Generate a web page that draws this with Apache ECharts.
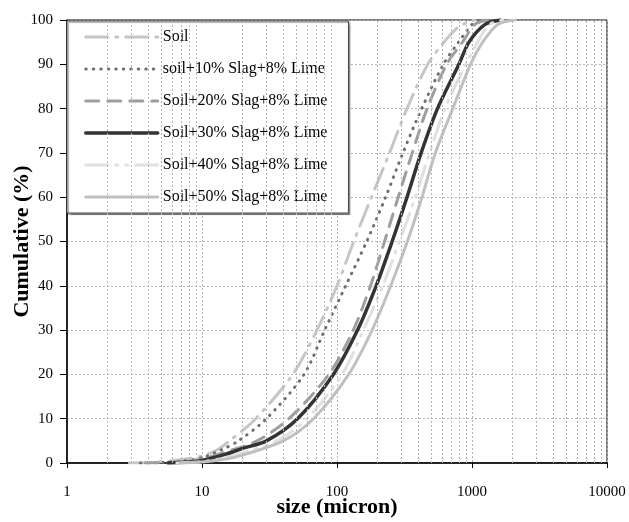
<!DOCTYPE html>
<html>
<head>
<meta charset="utf-8">
<script src="https://cdn.jsdelivr.net/npm/echarts@6/dist/echarts.min.js"></script>
<style>
  html, body { margin: 0; padding: 0; background: #fff; }
  #chart { width: 629px; height: 522px; }
</style>
</head>
<body>
<div id="chart"></div>
<script>
// series names
var names = ['Soil', 'soil+10% Slag+8% Lime', 'Soil+20% Slag+8% Lime',
             'Soil+30% Slag+8% Lime', 'Soil+40% Slag+8% Lime', 'Soil+50% Slag+8% Lime'];

// [size (micron), cumulative %]
var soil = [[2.9,0],[4,0.1],[6,0.5],[8,1],[10,1.6],[13,3],[16,5],[25,10],[47,20],[71,30],[100,40],
            [133,50],[180,60],[245,70],[330,80],[470,90],[620,95],[800,98.5],[1040,100]];
var slag10 = [[3.5,0],[5,0.1],[7,0.4],[10,1.2],[14,3],[18.6,5],[30,10],[57,20],[81,30],[116,40],
              [166,50],[229,60],[308,70],[424,80],[614,90],[795,95],[1000,99],[1150,100]];
var slag20 = [[3.8,0],[6,0.1],[8,0.4],[10,0.9],[15,2.5],[25.6,5],[44,10],[87,20],[132,30],[177,40],
              [225,50],[284,60],[361,70],[465,80],[650,90],[850,95],[1050,99],[1300,100]];
var slag30 = [[5.6,0],[8,0.2],[10,0.6],[15,2],[20,3.3],[30,5],[51,10],[94,20],[142,30],[195,40],
              [256,50],[330,60],[420,70],[555,80],[800,90],[950,95],[1250,99],[1620,100]];
var slag40 = [[6.5,0],[10,0.3],[15,1.2],[20,2.3],[36,5],[60,10],[109,20],[157,30],[218,40],
              [290,50],[380,60],[485,70],[630,80],[900,90],[1100,95],[1350,99],[1700,100]];
var slag50 = [[6.9,0],[10,0.2],[15,0.9],[20,1.8],[40,5],[67,10],[122,20],[182,30],[250,40],
              [332,50],[426,60],[535,70],[720,80],[975,90],[1200,95],[1550,99],[2100,100]];

var xLabels = ['1', '10', '100', '1000', '10000'];

// minor vertical grid lines 2..9 in every decade
var minorX = [];
[1, 10, 100, 1000].forEach(function (d) {
    for (var k = 2; k <= 9; k++) minorX.push(k * d);
});

var serif = 'Liberation Serif, Times New Roman, serif';
var gridDash = { color: '#b5b5b5', width: 1, type: [2, 2] };

function curve(name, data, color, width, dash) {
    return {
        name: name,
        type: 'line',
        data: data,
        symbol: 'none',
        smooth: 0.3,
        lineStyle: { color: color, width: width, type: dash, cap: 'round' },
        itemStyle: { color: color }
    };
}

var chart = echarts.init(document.getElementById('chart'));
chart.setOption({
    animation: false,
    backgroundColor: '#fff',
    grid: {
        left: 67, right: 22, top: 20, bottom: 59,
        outerBoundsMode: 'none',
        show: true, borderColor: '#000', borderWidth: 1
    },
    legend: {
        data: names,
        orient: 'vertical',
        left: 67,
        top: 21,
        itemWidth: 72,
        itemHeight: 16,
        itemGap: 16,
        padding: [8, 21, 8, 17],
        backgroundColor: '#fff',
        borderColor: '#444',
        borderWidth: 1,
        shadowColor: 'rgba(0,0,0,0.35)',
        shadowOffsetX: 1.5,
        shadowOffsetY: 1.5,
        shadowBlur: 1,
        itemStyle: { opacity: 0 },
        lineStyle: { width: 'inherit', type: 'inherit', cap: 'round' },
        textStyle: { fontFamily: serif, fontSize: 16, color: '#000' }
    },
    xAxis: {
        type: 'log',
        logBase: 10,
        min: 1,
        max: 10000,
        name: 'size (micron)',
        nameLocation: 'middle',
        nameGap: 33,
        nameMoveOverlap: false,
        nameTextStyle: { fontFamily: serif, fontSize: 22, fontWeight: 'bold', color: '#000' },
        axisLine: { lineStyle: { color: '#000', width: 1.5 } },
        axisTick: { show: true, length: 5, lineStyle: { color: '#000' } },
        axisLabel: {
            margin: 22,
            fontFamily: serif, fontSize: 15, color: '#000',
            formatter: function (v) {
                var s = String(Math.round(v));
                return xLabels.indexOf(s) >= 0 ? s : '';
            }
        },
        splitLine: { show: true, lineStyle: gridDash }
    },
    yAxis: {
        type: 'value',
        min: 0,
        max: 100,
        interval: 10,
        name: 'Cumulative (%)',
        nameLocation: 'middle',
        nameGap: 34,
        nameMoveOverlap: false,
        nameTextStyle: { fontFamily: serif, fontSize: 22, fontWeight: 'bold', color: '#000' },
        axisLine: { show: true, lineStyle: { color: '#000', width: 1.5 } },
        axisTick: { show: true, length: 7, lineStyle: { color: '#000' } },
        axisLabel: { margin: 14, fontFamily: serif, fontSize: 15, color: '#000' },
        splitLine: { show: true, lineStyle: gridDash }
    },
    series: [
        {
            name: 'minor grid',
            type: 'line',
            data: [],
            z: 1,
            silent: true,
            markLine: {
                silent: true,
                symbol: 'none',
                label: { show: false },
                lineStyle: gridDash,
                data: minorX.map(function (v) { return { xAxis: v }; })
            }
        },
        curve(names[0], soil, '#c6c6c6', 3, [22, 8, 2, 8]),
        curve(names[1], slag10, '#6e6e6e', 3, [0.5, 7]),
        curve(names[2], slag20, '#9e9e9e', 3, [13, 9]),
        curve(names[3], slag30, '#333333', 3.5, 'solid'),
        curve(names[4], slag40, '#e0e0e0', 3, [22, 8, 2, 8, 2, 8]),
        curve(names[5], slag50, '#c0c0c0', 3, 'solid')
    ]
});
</script>
</body>
</html>
